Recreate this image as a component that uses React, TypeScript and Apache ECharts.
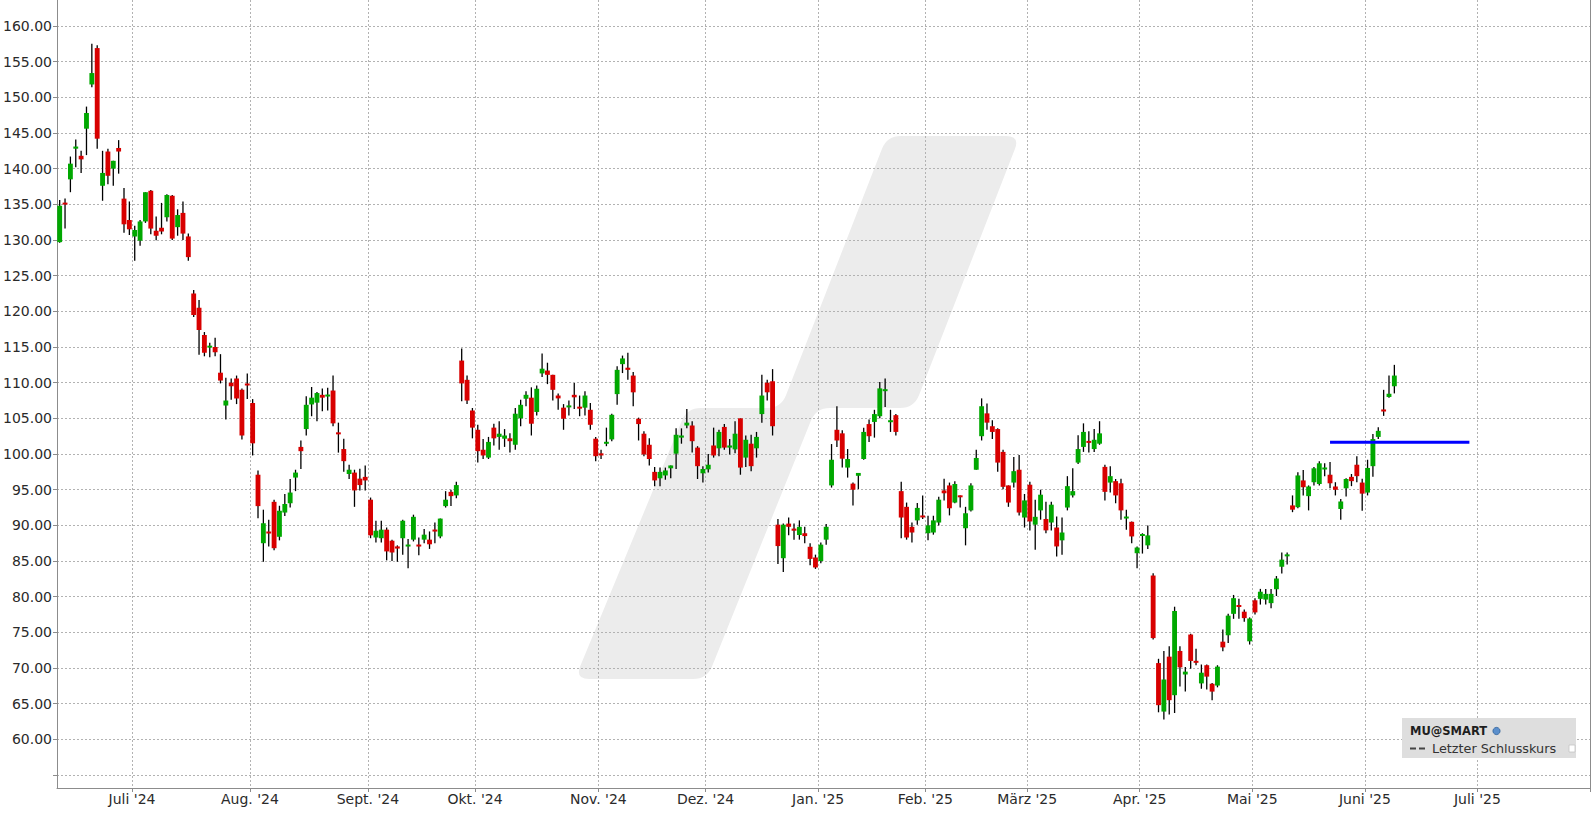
import React, { useEffect, useRef } from "react";
import * as echarts from "echarts";

// ---------- calendar ----------
const firstTradingDay = "2024-06-10";
const marketHolidays = [
  "2024-06-19", "2024-07-04", "2024-09-02", "2024-11-28", "2024-12-25",
  "2025-01-01", "2025-01-09", "2025-01-20", "2025-02-17", "2025-04-18", "2025-05-26",
];
const futureSlots = 36;
const monthNamesDe = ["Jan.", "Feb.", "März", "Apr.", "Mai", "Juni", "Juli", "Aug.", "Sept.", "Okt.", "Nov.", "Dez."];

// ---------- y axis ----------
const yMin = 53.19;
const yMax = 163.64;
const yGridValues = [55, 60, 65, 70, 75, 80, 85, 90, 95, 100, 105, 110, 115, 120, 125, 130, 135, 140, 145, 150, 155, 160];
const yLabelValues = [60, 65, 70, 75, 80, 85, 90, 95, 100, 105, 110, 115, 120, 125, 130, 135, 140, 145, 150, 155, 160];

// ---------- OHLC (MU, daily) ----------
const opens = [
  // Jun 24
  129.7, 135.2, 138.5, 142.8, 141.8, 145.6, 151.8, 156.9, 137.6, 142.4, 140.0, 142.9, 135.8, 132.8,
  // Jul 24
  130.5, 129.9, 132.6, 136.9, 131.3, 131.7, 133.2, 136.2, 131.8, 133.8, 130.5, 122.5, 120.5, 116.7, 114.95, 115.0, 111.4, 106.8, 110.0, 110.6, 109.0, 109.9,
  // Aug 24
  107.15, 97.1, 87.5, 89.1, 93.3, 88.4, 91.8, 93.1, 96.7, 101.0, 103.5, 106.95, 107.2, 108.3, 108.1, 108.9, 103.0, 100.7, 97.2, 97.4, 96.55, 96.8,
  // Sep 24
  93.6, 88.3, 88.2, 89.4, 87.85, 87.05, 88.2, 87.05, 88.0, 87.3, 88.0, 88.0, 89.4, 88.45, 92.7, 94.7, 94.2, 113.1, 110.4, 106.1,
  // Oct 24
  103.4, 100.6, 99.5, 103.7, 102.4, 102.15, 102.2, 101.3, 105.0, 107.75, 107.9, 105.9, 111.3, 111.7, 111.1, 108.2, 106.5, 106.55, 108.3, 106.6, 106.5, 106.2, 102.15,
  // Nov 24
  100.1, 101.45, 102.05, 108.4, 112.6, 112.1, 111.0, 104.95, 102.85, 101.3, 97.5, 96.6, 97.0, 98.0, 100.05, 102.3, 104.0, 104.0, 100.9, 97.3,
  // Dec 24
  97.85, 101.2, 100.8, 103.8, 100.9, 100.65, 105.0, 99.5, 101.45, 100.8, 105.6, 110.0, 110.2, 90.1, 85.4, 90.25, 89.55, 88.65, 88.9, 87.0, 85.5,
  // Jan 25
  85.0, 88.0, 95.6, 103.4, 102.9, 98.1, 95.85, 96.95, 99.3, 104.2, 104.5, 105.3, 108.85, 104.5, 105.45, 94.8, 92.6, 89.8, 90.7, 91.35,
  // Feb 25
  88.9, 89.0, 90.4, 94.9, 95.6, 93.2, 94.2, 89.6, 92.1, 97.8, 102.5, 105.7, 103.9, 103.5, 100.3, 95.6, 96.0, 97.8, 91.1,
  // Mar 25
  95.7, 90.1, 92.1, 90.9, 90.4, 89.7, 87.9, 92.5, 94.2, 98.8, 101.0, 101.8, 100.7, 101.45, 98.2, 96.0, 96.2, 95.9, 91.0, 90.5, 86.1,
  // Apr 25
  88.55, 87.2, 82.97, 70.7, 63.9, 71.6, 66.2, 72.4, 69.1, 74.7, 71.0, 67.85, 70.4, 67.8, 67.55, 73.7, 74.6, 77.6, 78.8, 77.9, 73.75,
  // May 25
  79.5, 79.7, 79.6, 79.1, 81.05, 84.2, 85.7, 92.8, 92.55, 96.3, 94.1, 96.05, 95.8, 97.85, 97.1, 95.45, 92.3, 95.2, 96.8, 98.5, 96.0,
  // Jun 25
  94.6, 98.3, 102.4, 106.25, 108.0, 109.5,
];
const closes = [
  134.8, 135.0, 140.7, 143.1, 141.3, 147.8, 153.4, 144.2, 139.4, 139.0, 141.1, 142.4, 132.2, 131.5,
  131.4, 132.6, 136.7, 131.6, 130.6, 131.2, 136.3, 130.2, 133.5, 130.9, 127.6, 119.5, 117.4, 114.2, 115.15, 114.25, 110.3, 107.5, 109.5, 107.8, 102.6, 109.6,
  101.5, 92.7, 90.3, 88.9, 86.8, 92.05, 93.0, 94.6, 97.4, 100.4, 106.9, 107.9, 108.55, 107.9, 108.3, 104.3, 102.8, 99.0, 97.8, 94.9, 95.65, 96.3,
  88.6, 89.25, 89.4, 86.35, 86.2, 86.75, 90.65, 87.3, 91.2, 87.05, 88.7, 87.35, 89.15, 90.95, 93.6, 94.1, 95.65, 109.9, 107.5, 103.7,
  100.4, 99.8, 101.7, 102.2, 102.85, 102.6, 101.8, 105.65, 106.9, 108.3, 104.25, 109.15, 111.96, 111.1, 109.0, 107.8, 104.95, 106.8, 107.95, 106.4, 108.2, 104.1, 99.7,
  99.8, 101.7, 105.5, 111.8, 113.4, 111.8, 108.65, 104.2, 99.95, 99.3, 96.3, 97.5, 97.7, 98.4, 102.7, 102.6, 104.4, 101.8, 98.3, 97.9,
  98.5, 99.8, 103.1, 100.9, 101.2, 102.85, 98.1, 102.0, 98.3, 102.4, 108.2, 108.65, 103.9, 87.1, 90.1, 89.8, 89.25, 89.8, 88.5, 85.3, 84.1,
  87.3, 89.8, 99.2, 101.9, 99.35, 99.3, 95.0, 97.35, 103.1, 102.5, 105.6, 109.2, 109.05, 104.7, 103.1, 91.1, 88.3, 89.0, 92.45, 91.15,
  90.0, 90.7, 93.6, 94.5, 92.4, 95.8, 93.95, 91.7, 95.6, 99.45, 106.7, 104.4, 103.1, 98.8, 95.4, 93.2, 97.6, 91.8, 93.5,
  90.55, 91.2, 94.3, 89.3, 92.9, 87.05, 89.0, 95.5, 94.8, 100.7, 103.1, 101.6, 102.0, 102.9, 94.7, 96.9, 94.2, 92.1, 91.2, 88.45, 86.9,
  88.75, 88.6, 74.2, 64.8, 68.4, 65.5, 78.0, 70.1, 69.5, 71.0, 70.75, 69.35, 68.8, 66.7, 70.2, 72.9, 77.35, 79.8, 78.6, 77.0, 76.95,
  77.8, 80.7, 80.4, 80.4, 82.55, 85.2, 85.9, 92.2, 97.0, 95.35, 95.45, 98.0, 98.7, 98.1, 95.9, 94.99, 93.35, 96.5, 96.2, 96.9, 94.45,
  98.05, 102.1, 103.25, 105.96, 108.45, 111.0,
];
const lows = [
  129.6, 131.6, 136.7, 140.2, 139.4, 141.9, 151.4, 142.8, 135.5, 137.8, 137.6, 139.3, 131.0, 130.7,
  127.1, 129.2, 132.4, 130.8, 129.95, 130.8, 132.6, 130.0, 130.6, 130.0, 127.1, 119.2, 113.9, 113.7, 113.55, 113.7, 109.9, 104.85, 107.6, 107.0, 102.05, 107.7,
  99.8, 91.0, 84.9, 87.05, 86.5, 87.9, 91.3, 92.5, 94.8, 97.9, 102.6, 105.3, 104.6, 106.0, 106.1, 103.9, 100.2, 97.5, 96.5, 92.6, 94.9, 94.9,
  88.2, 87.6, 87.6, 85.1, 85.0, 84.9, 85.9, 84.0, 87.75, 85.8, 87.5, 86.7, 87.5, 88.2, 92.5, 92.7, 93.8, 107.4, 107.0, 102.2,
  98.8, 99.3, 99.3, 101.2, 100.6, 101.0, 100.2, 100.6, 103.9, 106.7, 102.6, 105.4, 110.8, 109.8, 107.5, 106.2, 103.4, 105.4, 106.3, 105.3, 105.4, 103.4, 99.0,
  99.3, 101.1, 101.8, 106.9, 111.35, 110.4, 106.7, 101.9, 99.7, 98.4, 95.5, 95.5, 96.4, 96.6, 97.9, 101.45, 103.6, 100.2, 96.5, 96.0,
  97.4, 99.5, 99.7, 100.6, 99.95, 100.1, 97.1, 98.2, 97.6, 99.5, 104.4, 107.5, 102.6, 84.6, 83.45, 88.6, 88.0, 88.0, 87.5, 84.4, 83.9,
  84.7, 87.3, 95.3, 101.0, 98.1, 96.7, 92.8, 95.1, 99.2, 101.7, 102.3, 105.0, 106.6, 103.1, 102.6, 88.2, 88.0, 87.6, 90.1, 90.9,
  87.9, 88.7, 90.0, 93.5, 91.4, 93.1, 92.5, 87.2, 91.95, 97.8, 101.9, 103.4, 102.1, 97.5, 95.05, 92.6, 95.3, 91.4, 89.7,
  89.3, 86.6, 90.8, 88.9, 89.3, 85.65, 85.9, 92.1, 93.9, 98.6, 100.3, 100.2, 100.3, 101.3, 93.5, 94.6, 93.1, 90.8, 89.4, 87.5, 84.0,
  86.05, 86.7, 74.0, 63.8, 62.8, 63.5, 63.7, 67.4, 66.7, 69.9, 70.4, 67.1, 67.0, 65.5, 67.3, 72.35, 73.5, 76.9, 76.9, 76.5, 73.3,
  77.5, 78.9, 78.9, 78.4, 80.1, 83.25, 84.5, 91.85, 92.4, 94.2, 92.1, 95.6, 95.6, 96.9, 95.2, 94.2, 90.8, 94.05, 95.5, 96.05, 92.05,
  94.2, 96.8, 102.1, 105.35, 107.9, 108.5,
];
const highs = [
  135.6, 135.8, 141.7, 144.1, 142.5, 148.7, 157.5, 157.3, 142.5, 142.8, 141.1, 144.0, 137.3, 135.4,
  132.0, 132.8, 136.7, 137.0, 133.3, 135.2, 136.4, 136.3, 134.3, 135.4, 130.9, 123.0, 121.6, 117.1, 115.6, 116.3, 114.0, 110.7, 110.6, 111.0, 109.2, 111.3,
  107.7, 97.7, 92.2, 90.8, 93.6, 92.75, 94.4, 96.5, 97.8, 101.9, 108.1, 109.4, 108.7, 109.2, 109.3, 111.0, 104.4, 102.15, 98.5, 97.8, 97.95, 98.4,
  93.9, 90.65, 90.65, 89.7, 88.0, 87.2, 90.8, 88.1, 91.5, 88.3, 89.5, 89.15, 90.4, 90.95, 94.8, 95.0, 96.1, 114.8, 111.0, 106.45,
  104.1, 102.1, 102.4, 104.25, 104.6, 103.5, 102.9, 106.45, 107.6, 108.8, 109.35, 109.6, 114.1, 112.8, 111.1, 108.5, 107.0, 107.5, 109.95, 108.2, 108.8, 107.15, 102.4,
  100.6, 103.7, 105.65, 112.3, 113.8, 114.2, 111.5, 105.1, 103.2, 102.2, 98.2, 98.1, 98.1, 98.4, 103.6, 103.6, 106.3, 104.6, 101.1, 98.3,
  100.0, 103.7, 103.4, 104.2, 102.1, 104.6, 105.0, 102.6, 102.7, 103.1, 111.1, 110.4, 111.9, 90.9, 90.25, 91.1, 90.25, 90.7, 89.8, 87.5, 85.9,
  87.6, 90.2, 101.4, 106.7, 103.35, 100.7, 96.0, 97.35, 103.7, 104.85, 106.2, 110.1, 110.6, 106.2, 105.6, 96.1, 93.2, 90.4, 93.15, 94.2,
  91.35, 91.35, 94.0, 96.55, 96.0, 96.2, 94.2, 92.6, 95.9, 100.6, 107.8, 107.1, 104.75, 103.6, 100.6, 95.6, 99.6, 99.85, 94.4,
  96.1, 93.6, 95.0, 93.3, 93.3, 91.25, 91.1, 96.9, 98.0, 102.65, 104.3, 103.2, 103.5, 104.6, 98.5, 98.3, 96.5, 96.55, 92.2, 90.55, 87.05,
  88.9, 90.0, 83.3, 71.3, 72.4, 73.05, 78.6, 73.05, 70.15, 74.8, 72.7, 70.5, 70.5, 67.9, 70.4, 75.4, 77.6, 80.25, 79.7, 78.2, 77.1,
  79.8, 81.1, 81.1, 81.1, 82.9, 86.2, 86.2, 94.2, 97.45, 97.75, 95.6, 98.2, 99.0, 98.7, 98.9, 96.05, 93.7, 96.6, 97.2, 99.7, 96.55,
  99.2, 102.8, 103.75, 109.0, 111.0, 112.5,
];

// ---------- blue horizontal level ----------
const levelValue = 101.66;
const levelFrom = "2025-05-21";
const levelTo = "2025-06-27";

// ---------- legend texts ----------
const legendTitle = "MU@SMART";
const legendItem = "Letzter Schlusskurs";

function buildDates(): string[] {
  const out: string[] = [];
  const d = new Date(firstTradingDay + "T00:00:00Z");
  const total = opens.length + futureSlots;
  while (out.length < total) {
    const wd = d.getUTCDay();
    const iso = d.toISOString().slice(0, 10);
    if (wd !== 0 && wd !== 6 && !marketHolidays.includes(iso)) out.push(iso);
    d.setUTCDate(d.getUTCDate() + 1);
  }
  return out;
}

function roundedPolygonPath(pts: number[][], r: number): string {
  const n = pts.length;
  let d = "";
  for (let k = 0; k < n; k++) {
    const p = pts[k];
    const a = pts[(k - 1 + n) % n];
    const b = pts[(k + 1) % n];
    const la = Math.hypot(a[0] - p[0], a[1] - p[1]);
    const lb = Math.hypot(b[0] - p[0], b[1] - p[1]);
    const s = [p[0] + ((a[0] - p[0]) / la) * r, p[1] + ((a[1] - p[1]) / la) * r];
    const e = [p[0] + ((b[0] - p[0]) / lb) * r, p[1] + ((b[1] - p[1]) / lb) * r];
    d += (k === 0 ? "M" : "L") + s[0].toFixed(1) + " " + s[1].toFixed(1) + " Q" + p[0] + " " + p[1] + " " + e[0].toFixed(1) + " " + e[1].toFixed(1) + " ";
  }
  return d + "Z";
}

const watermarkPath = roundedPolygonPath(
  [
    [575, 679],
    [687, 408],
    [781, 408],
    [887, 136],
    [1020, 136],
    [914, 408],
    [816, 408],
    [707, 679],
  ],
  14
);

let shapeRegistered = false;

export default function App() {
  const ref = useRef<HTMLDivElement>(null);

  useEffect(() => {
    document.body.style.margin = "0";
    if (!shapeRegistered) {
      echarts.graphic.registerShape("wmLogo", echarts.graphic.extendPath(watermarkPath, {}));
      shapeRegistered = true;
    }
    const chart = echarts.init(ref.current!, undefined, { renderer: "svg" });

    const dates = buildDates();
    const monthStart = dates.map((iso, i) => i > 0 && iso.slice(0, 7) !== dates[i - 1].slice(0, 7));
    const candleData = opens.map((o, i) => [i, o, closes[i], lows[i], highs[i]]);

    const axisColor = "#8c8c8c";
    const gridLine = { color: "#b2b2b2", width: 1, type: [2, 2] as any };
    const font = "DejaVu Sans";
    const up = "#00a800";
    const down = "#d80000";

    chart.setOption({
      animation: false,
      backgroundColor: "#ffffff",
      grid: { left: 57, right: 6, top: 0, bottom: 28, containLabel: false },
      xAxis: {
        type: "category",
        data: dates,
        boundaryGap: true,
        axisLine: { show: true, lineStyle: { color: axisColor, width: 1 } },
        axisTick: {
          show: true,
          length: 4,
          interval: (idx: number) => monthStart[idx],
          lineStyle: { color: axisColor },
        },
        axisLabel: {
          interval: (idx: number) => monthStart[idx],
          formatter: (v: string) => {
            const m = parseInt(v.slice(5, 7), 10) - 1;
            return monthNamesDe[m] + " '" + v.slice(2, 4);
          },
          fontFamily: font,
          fontSize: 14,
          color: "#2a2a2a",
          margin: 4,
          padding: [0, 5.4, 0, 0],
        },
        splitLine: {
          show: true,
          interval: (idx: number) => monthStart[idx],
          lineStyle: gridLine,
        },
      },
      yAxis: [
        {
          type: "value",
          position: "left",
          min: yMin,
          max: yMax,
          axisLine: { show: true, lineStyle: { color: axisColor, width: 1 } },
          axisTick: { show: true, length: 4, customValues: yGridValues, lineStyle: { color: axisColor } },
          axisLabel: {
            customValues: yLabelValues,
            formatter: (v: number) => v.toFixed(2),
            fontFamily: font,
            fontSize: 14,
            color: "#2a2a2a",
            margin: 5,
          },
          splitLine: { show: true, lineStyle: gridLine },
        },
        {
          type: "value",
          position: "right",
          min: yMin,
          max: yMax,
          axisLine: { show: true, lineStyle: { color: axisColor, width: 1 } },
          axisTick: { show: false },
          axisLabel: { show: false },
          splitLine: { show: false },
        },
      ],
      series: [
        {
          type: "custom",
          name: "MU",
          xAxisIndex: 0,
          yAxisIndex: 0,
          z: 3,
          encode: { x: 0, y: [1, 2, 3, 4] },
          data: candleData,
          renderItem: (params: any, api: any) => {
            const i = api.value(0);
            const o = api.value(1);
            const c = api.value(2);
            const l = api.value(3);
            const h = api.value(4);
            const pTop = api.coord([i, Math.max(o, c)]);
            const pBot = api.coord([i, Math.min(o, c)]);
            const pL = api.coord([i, l]);
            const pH = api.coord([i, h]);
            const band = api.size([1, 0])[0];
            const w = band - 0.5;
            let top = pTop[1];
            let hgt = pBot[1] - pTop[1];
            if (hgt < 2) {
              top -= (2 - hgt) / 2;
              hgt = 2;
            }
            return {
              type: "group",
              children: [
                {
                  type: "line",
                  shape: { x1: pH[0], y1: pH[1], x2: pL[0], y2: pL[1] },
                  style: { stroke: "#000000", lineWidth: 1.3 },
                },
                {
                  type: "rect",
                  shape: { x: pTop[0] - w / 2, y: top, width: w, height: hgt },
                  style: { fill: c >= o ? up : down },
                },
              ],
            };
          },
        },
        {
          type: "line",
          name: "Level",
          z: 4,
          symbol: "none",
          data: [
            [levelFrom, levelValue],
            [levelTo, levelValue],
          ],
          lineStyle: { color: "#0000ff", width: 3 },
        },
      ],
      graphic: [
        {
          type: "wmLogo",
          x: 0,
          y: 0,
          z: -10,
          silent: true,
          style: { fill: "#ececec" },
        },
        {
          type: "group",
          z: 100,
          children: [
            {
              type: "rect",
              shape: { x: 1402, y: 718, width: 174, height: 40 },
              style: { fill: "#dedede" },
              z: 100,
            },
            {
              type: "text",
              x: 1410,
              y: 731,
              z: 101,
              style: {
                text: legendTitle,
                fontFamily: font,
                fontWeight: "bold",
                fontSize: 11.5,
                fill: "#1e1e1e",
                verticalAlign: "middle",
                align: "left",
              },
            },
            {
              type: "circle",
              z: 101,
              shape: { cx: 1496.5, cy: 731, r: 3.6 },
              style: { fill: "#5b8fcc", stroke: "#2d5f99", lineWidth: 0.8 },
            },
            {
              type: "line",
              z: 101,
              shape: { x1: 1410, y1: 748.5, x2: 1416, y2: 748.5 },
              style: { stroke: "#444444", lineWidth: 2 },
            },
            {
              type: "line",
              z: 101,
              shape: { x1: 1419, y1: 748.5, x2: 1425, y2: 748.5 },
              style: { stroke: "#444444", lineWidth: 2 },
            },
            {
              type: "text",
              x: 1432,
              y: 748.5,
              z: 101,
              style: {
                text: legendItem,
                fontFamily: font,
                fontSize: 12.8,
                fill: "#333333",
                verticalAlign: "middle",
                align: "left",
              },
            },
            {
              type: "rect",
              z: 101,
              shape: { x: 1569, y: 745, width: 6, height: 7 },
              style: { fill: "#ffffff", stroke: "#c4c4c4", lineWidth: 0.8 },
            },
          ],
        },
      ],
    });

    return () => {
      chart.dispose();
    };
  }, []);

  return (
    <div
      ref={ref}
      style={{ position: "absolute", left: 0, top: 0, width: 1596, height: 816, background: "#ffffff" }}
    />
  );
}
